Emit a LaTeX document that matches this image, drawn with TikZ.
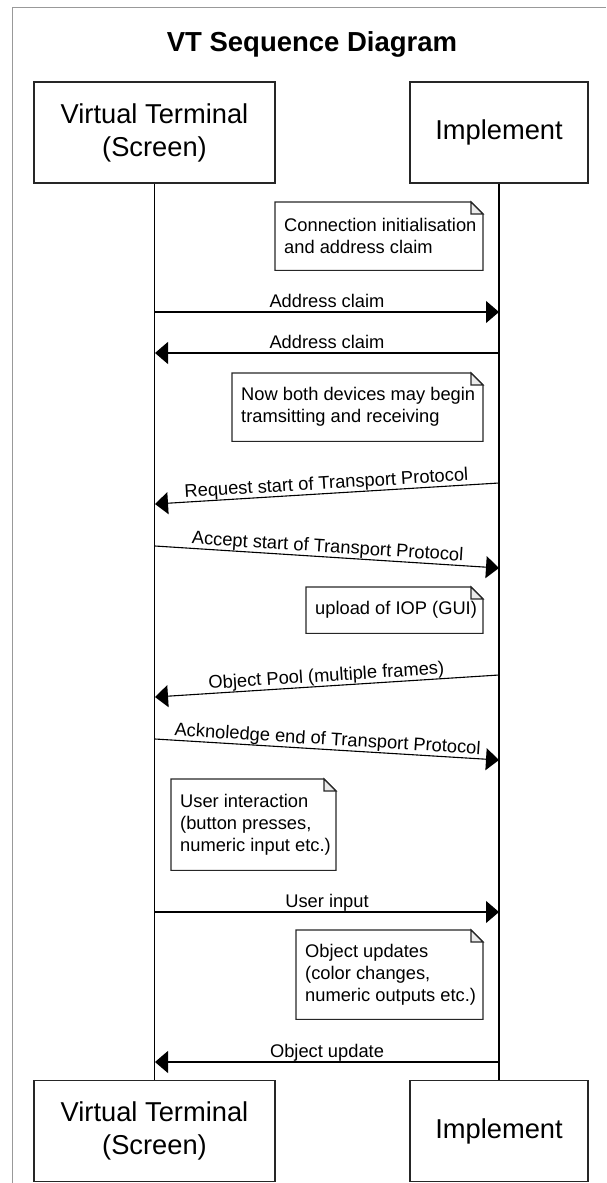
\documentclass[tikz,border=0pt]{standalone}
\usepackage{fontspec}
\setmainfont{Liberation Sans}
\usetikzlibrary{arrows.meta}
% #1 = note node name, #2 = outline width (pt)
\newcommand{\drawnote}[2]{%
  \path (#1.north west) ++(#2,0) coordinate (#1ne);
  \draw[noteline] (#1.north west) -- ([xshift=-12pt]#1ne) -- ([yshift=-12pt]#1ne) -- (#1ne |- #1.south) -- (#1.south west) -- cycle;
  \draw[noteline, fill=black!8] ([xshift=-12pt]#1ne) |- ([yshift=-12pt]#1ne) -- cycle;}
\begin{document}
\begin{tikzpicture}[x=1pt,y=-1pt,
  actor/.style={draw=black!85, line width=1.2pt, fill=white, align=center, inner sep=0pt,
    font=\fontsize{27.3}{33}\selectfont},
  notebox/.style={anchor=north west, inner xsep=9pt, inner ysep=0pt, align=left,
    font=\fontsize{18.3}{22}\selectfont},
  noteline/.style={draw=black!85, line width=1.1pt},
  life/.style={draw=black, line width=1.1pt},
  msg/.style={draw=black, line width=1.1pt, -{Triangle[length=13pt,width=22pt]}},
  lbl/.style={font=\fontsize{18.3}{22}\selectfont, inner sep=0pt, text depth=4pt, above, sloped},
  frameline/.style={draw=black!40, line width=1.3pt}
]
\useasboundingbox (0,0) rectangle (606,1183);
\draw[frameline] (12.7,1183) -- (12.7,7.3) -- (606,7.3);
\node[font=\fontsize{27.5}{33}\selectfont\bfseries] (title) at (312,44) {VT Sequence Diagram};

% actor boxes
\node[actor, minimum width=241pt, minimum height=101pt] (vtT) at (154.5,132.5) {Virtual Terminal\\(Screen)};
\node[actor, minimum width=178pt, minimum height=101pt] (imT) at (499,132.5) {Implement};
\node[actor, minimum width=241pt, minimum height=101pt] (vtB) at (154.5,1131) {Virtual Terminal\\(Screen)};
\node[actor, minimum width=178pt, minimum height=101pt] (imB) at (499,1131) {Implement};

% lifelines
\draw[life] (vtT.south) -- (vtB.north);
\draw[life] (imT.south) -- (imB.north);

% notes
\node[notebox, minimum height=68pt] (n1) at (275,202) {Connection initialisation\\and address claim};
\drawnote{n1}{208}
\node[notebox, minimum height=68pt] (n2) at (232,373) {Now both devices may begin\\tramsitting and receiving};
\drawnote{n2}{251}
\node[notebox, minimum height=46pt] (n3) at (306,587) {upload of IOP (GUI)};
\drawnote{n3}{177}
\node[notebox, minimum height=91pt] (n4) at (171,779) {User interaction\\(button presses,\\numeric input etc.)};
\drawnote{n4}{165}
\node[notebox, minimum height=89pt] (n5) at (296,930) {Object updates\\(color changes,\\numeric outputs etc.)};
\drawnote{n5}{187}

% message end points on the lifelines
\coordinate (a1) at (155,312);  \coordinate (b1) at (499,312);
\coordinate (a2) at (155,353);  \coordinate (b2) at (499,353);
\coordinate (a3) at (155,504);  \coordinate (b3) at (499,483);
\coordinate (a4) at (155,546);  \coordinate (b4) at (499,568);
\coordinate (a5) at (155,697);  \coordinate (b5) at (499,675);
\coordinate (a6) at (155,739);  \coordinate (b6) at (499,760);
\coordinate (a7) at (155,912);  \coordinate (b7) at (499,912);
\coordinate (a8) at (155,1062); \coordinate (b8) at (499,1062);

\draw[msg] (a1) -- node[lbl] {Address claim} (b1);
\draw[msg] (b2) -- node[lbl] {Address claim} (a2);
\draw[msg] (b3) -- node[lbl] {Request start of Transport Protocol} (a3);
\draw[msg] (a4) -- node[lbl] {Accept start of Transport Protocol} (b4);
\draw[msg] (b5) -- node[lbl] {Object Pool (multiple frames)} (a5);
\draw[msg] (a6) -- node[lbl] {Acknoledge end of Transport Protocol} (b6);
\draw[msg] (a7) -- node[lbl] {User input} (b7);
\draw[msg] (b8) -- node[lbl] {Object update} (a8);
\end{tikzpicture}
\end{document}
